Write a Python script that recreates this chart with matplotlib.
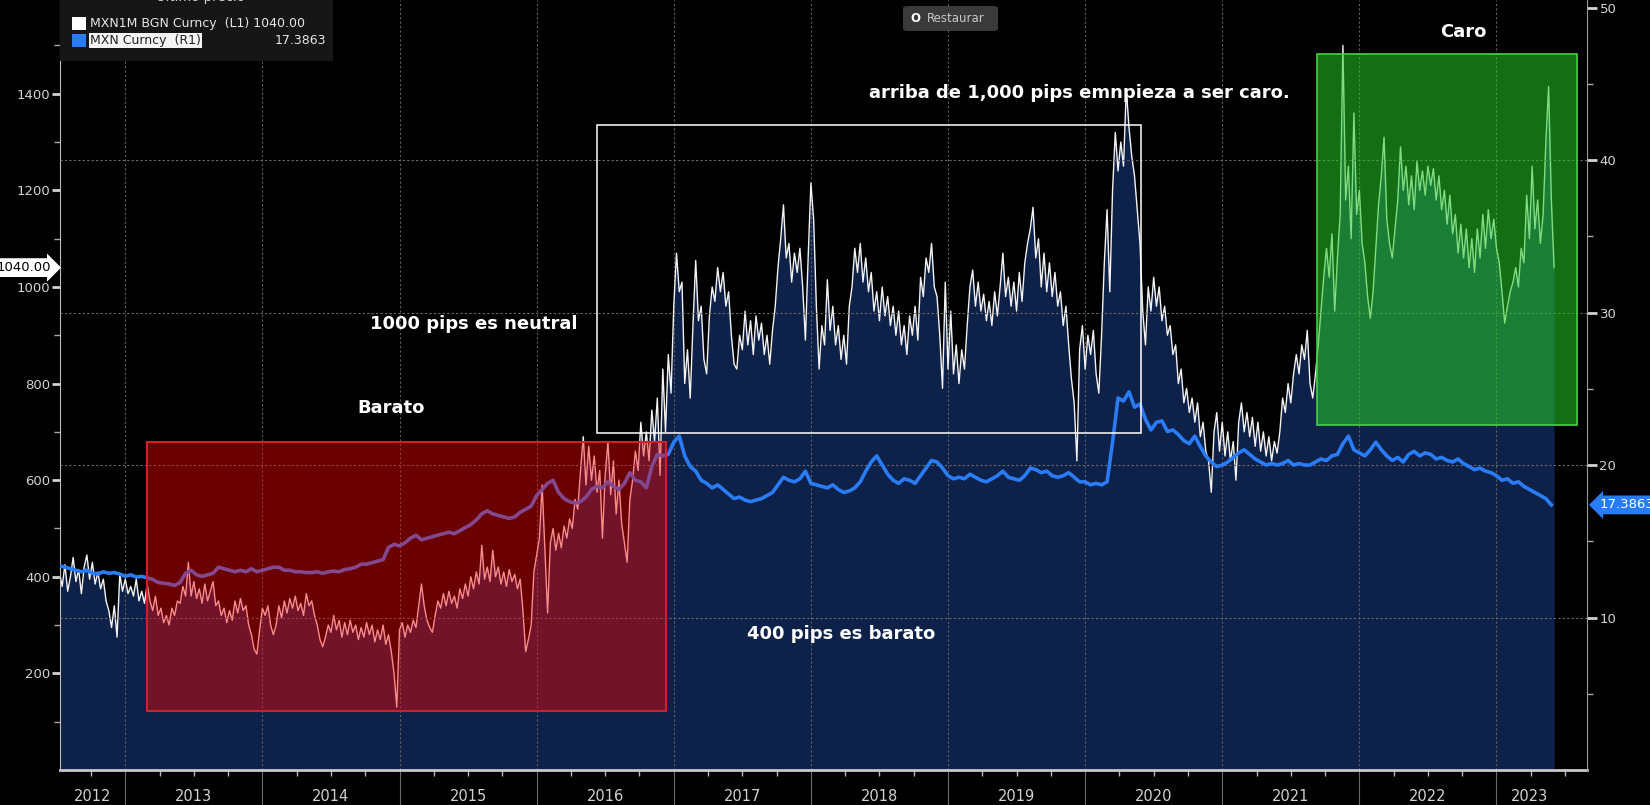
import numpy as np
import matplotlib
matplotlib.use("Agg")
import matplotlib.pyplot as plt
from matplotlib.patches import Rectangle, FancyBboxPatch
from matplotlib.transforms import blended_transform_factory

# MXN1M BGN Curncy (1M forward points), one reading every 0.02 yr
fwd_2012 = [410, 380, 425, 370, 400, 440, 390, 415, 365, 420, 445, 395,
            430, 385, 410, 375, 395, 350, 330, 295, 340, 275, 405, 370]
fwd_2013 = [395, 365, 380, 360, 395, 350, 370, 345, 385, 350,
            330, 360, 320, 335, 305, 320, 300, 335, 320, 350,
            345, 380, 360, 430, 360, 390, 355, 375, 345, 385,
            350, 370, 390, 340, 350, 320, 335, 305, 330, 310,
            350, 325, 355, 330, 340, 300, 280, 250, 240, 290]
fwd_2014 = [335, 320, 340, 300, 280, 300, 340, 315, 350, 325,
            355, 335, 360, 330, 345, 320, 365, 340, 350, 320,
            300, 270, 255, 275, 300, 285, 320, 290, 310, 275,
            305, 280, 310, 285, 300, 270, 295, 275, 305, 280,
            300, 265, 290, 270, 300, 260, 280, 245, 200, 130]
fwd_2015 = [290, 305, 275, 300, 285, 310, 295, 340, 385, 340,
            310, 295, 285, 320, 350, 335, 365, 340, 370, 345,
            360, 335, 375, 355, 385, 360, 400, 375, 410, 385,
            465, 395, 420, 390, 455, 400, 420, 385, 410, 380,
            415, 390, 405, 375, 395, 330, 245, 270, 300, 410]
fwd_2016 = [445, 480, 590, 455, 325, 470, 500, 455, 490, 460,
            505, 480, 520, 500, 560, 540, 620, 690, 590, 670,
            600, 650, 575, 620, 480, 610, 680, 570, 640, 530,
            600, 510, 470, 430, 560, 600, 660, 620, 720, 650,
            700, 640, 745, 680, 770, 610, 830, 700, 860, 780]
fwd_2017 = [960, 1070, 990, 1010, 800, 870, 770, 920, 1055, 930,
            960, 850, 820, 940, 1000, 970, 1040, 990, 1030, 960,
            990, 900, 840, 830, 900, 870, 950, 880, 930, 860,
            940, 890, 925, 860, 900, 840, 910, 960, 1040, 1100,
            1170, 1060, 1090, 1010, 1070, 1030, 1080, 1000, 890, 1060]
fwd_2018 = [1215, 1140, 960, 830, 920, 880, 1015, 910, 960, 880,
            920, 850, 900, 840, 960, 1000, 1080, 1030, 1090, 1010,
            1060, 990, 1030, 950, 990, 930, 1000, 940, 980, 920,
            960, 900, 950, 880, 920, 860, 940, 900, 960, 890,
            1020, 980, 1060, 1030, 1090, 1000, 980, 900, 790, 1010]
fwd_2019 = [830, 950, 820, 880, 800, 870, 830, 920, 1000, 1035,
            960, 1010, 950, 985, 930, 970, 920, 990, 940, 1000,
            1070, 980, 1020, 960, 1010, 950, 1030, 970, 1050, 1090,
            1120, 1165, 1060, 1100, 1000, 1070, 990, 1050, 980, 1030,
            960, 990, 920, 960, 880, 810, 760, 640, 870, 920]
fwd_2020 = [830, 900, 860, 910, 820, 780, 900, 1050, 1160, 990,
            1200, 1320, 1240, 1300, 1250, 1410, 1330, 1270, 1230, 1160,
            1090, 950, 880, 1000, 950, 1020, 960, 1000, 930, 960,
            900, 920, 860, 880, 800, 830, 760, 790, 740, 770,
            720, 760, 690, 720, 660, 640, 575, 700, 740, 660]
fwd_2021 = [720, 650, 700, 640, 680, 600, 720, 760, 700, 740,
            690, 730, 670, 720, 660, 700, 650, 690, 640, 680,
            656, 700, 770, 740, 800, 760, 820, 860, 820, 880,
            850, 910, 800, 770, 820, 880, 950, 1020, 1080, 1020,
            1110, 950, 1060, 1150, 1500, 1180, 1250, 1100, 1360, 1150]
fwd_2022 = [1200, 1090, 1050, 980, 935, 990, 1080, 1170, 1230, 1310,
            1140, 1090, 1060, 1120, 1180, 1290, 1200, 1250, 1170, 1230,
            1160, 1260, 1200, 1240, 1190, 1250, 1210, 1245, 1180, 1230,
            1160, 1200, 1130, 1190, 1110, 1150, 1070, 1130, 1060, 1120,
            1040, 1100, 1030, 1120, 1060, 1150, 1080, 1160, 1100, 1140]
fwd_2023 = [1080, 1050, 990, 925, 960, 990, 1010, 1040, 1000, 1080,
            1050, 1190, 1100, 1250, 1120, 1180, 1090, 1150, 1300, 1415,
            1180, 1040]

# MXN Curncy (spot), one reading every 0.04 yr
spot_2012 = [13.4, 13.3, 13.2, 13.1, 13.0, 13.1, 12.9, 12.85, 13.0, 12.9, 12.95, 12.85]
spot_2013 = [12.7, 12.8, 12.65, 12.7, 12.6, 12.5, 12.3, 12.25, 12.2, 12.1, 12.3, 12.9, 13.1,
             12.8, 12.7, 12.8, 12.9, 13.3, 13.2, 13.1, 13.0, 13.1, 13.0, 13.2, 13.0]
spot_2014 = [13.1, 13.2, 13.3, 13.3, 13.1, 13.1, 13.0, 13.0, 12.95, 12.95, 13.0, 12.9, 13.0,
             13.05, 13.0, 13.15, 13.2, 13.3, 13.5, 13.5, 13.6, 13.7, 13.8, 14.6, 14.8]
spot_2015 = [14.7, 14.9, 15.2, 15.4, 15.1, 15.2, 15.3, 15.4, 15.5, 15.6, 15.5, 15.7, 15.9,
             16.1, 16.4, 16.8, 17.0, 16.8, 16.7, 16.6, 16.5, 16.6, 16.9, 17.1, 17.3]
spot_2016 = [18.0, 18.4, 18.8, 19.0, 18.2, 17.8, 17.6, 17.5, 17.6, 17.9, 18.4, 18.6, 18.5,
             18.9, 18.6, 18.4, 18.8, 19.5, 19.0, 18.9, 18.5, 19.9, 20.7, 20.6, 20.7]
spot_2017 = [21.5, 21.9, 20.6, 19.9, 19.6, 19.0, 18.8, 18.5, 18.7, 18.4, 18.1, 17.8, 17.9,
             17.7, 17.6, 17.7, 17.8, 18.0, 18.2, 18.7, 19.2, 19.0, 18.9, 19.1, 19.6]
spot_2018 = [18.8, 18.7, 18.6, 18.5, 18.7, 18.4, 18.2, 18.3, 18.5, 18.9, 19.6, 20.2, 20.6,
             20.0, 19.4, 19.0, 18.8, 19.1, 19.0, 18.8, 19.3, 19.8, 20.3, 20.2, 19.8]
spot_2019 = [19.3, 19.1, 19.2, 19.1, 19.4, 19.2, 19.0, 18.9, 19.1, 19.3, 19.6, 19.2, 19.1,
             19.0, 19.3, 19.8, 19.7, 19.5, 19.6, 19.3, 19.2, 19.3, 19.5, 19.2, 18.9]
spot_2020 = [18.9, 18.7, 18.8, 18.7, 18.9, 21.5, 24.4, 24.2, 24.8, 23.8, 24.0, 23.0, 22.3,
             22.8, 22.9, 22.2, 22.3, 22.0, 21.6, 21.4, 21.9, 21.2, 20.6, 20.2, 19.9]
spot_2021 = [20.0, 20.2, 20.5, 20.8, 21.0, 20.7, 20.4, 20.2, 20.0, 20.1, 20.0, 20.1, 20.3,
             20.0, 20.1, 20.0, 20.0, 20.2, 20.4, 20.3, 20.6, 20.7, 21.4, 21.9, 21.0]
spot_2022 = [20.8, 20.6, 21.0, 21.5, 21.0, 20.6, 20.3, 20.5, 20.2, 20.7, 20.9, 20.6, 20.8,
             20.7, 20.4, 20.5, 20.3, 20.2, 20.4, 20.1, 19.9, 19.7, 19.8, 19.6, 19.5]
spot_2023 = [19.3, 19.0, 19.1, 18.8, 18.9, 18.6, 18.4, 18.2, 18.0, 17.8, 17.3863]

fwd_years = [2012, 2013, 2014, 2015, 2016, 2017, 2018, 2019, 2020, 2021, 2022, 2023]
fwd_lists = [fwd_2012, fwd_2013, fwd_2014, fwd_2015, fwd_2016, fwd_2017,
             fwd_2018, fwd_2019, fwd_2020, fwd_2021, fwd_2022, fwd_2023]
spot_lists = [spot_2012, spot_2013, spot_2014, spot_2015, spot_2016, spot_2017,
              spot_2018, spot_2019, spot_2020, spot_2021, spot_2022, spot_2023]
series_start = 2012.52

year_names = ["2012", "2013", "2014", "2015", "2016", "2017",
              "2018", "2019", "2020", "2021", "2022", "2023"]
left_ticks = [200, 400, 600, 800, 1000, 1200, 1400]
right_ticks = [10, 20, 30, 40, 50]
right_grid = [10, 20, 30, 40]

last_fwd = 1040.00
last_spot = 17.3863

# zones (x in years, y in forward points)
red_zone = (2013.16, 2016.94, 122, 680)
white_zone = (2016.44, 2020.41, 697, 1336)
green_zone = (2021.69, 2023.59, 715, 1482)

notes = [
    ("Caro", 2022.76, 1527),
    ("arriba de 1,000 pips emnpieza a ser caro.", 2019.96, 1402),
    ("1000 pips es neutral", 2015.54, 924),
    ("Barato", 2014.94, 750),
    ("400 pips es barato", 2018.22, 281),
]


def stamps(lists, step):
    out = []
    for yr, vals in zip(fwd_years, lists):
        first = series_start if yr == fwd_years[0] else yr
        out.append(first + step * np.arange(len(vals)))
    return np.concatenate(out)


fwd_t = stamps(fwd_lists, 0.02)
fwd_pts = np.concatenate(fwd_lists)
spot_t = stamps(spot_lists, 0.04)
spot_px = np.concatenate(spot_lists)

W, H = 1650, 805
fig = plt.figure(figsize=(W / 100, H / 100), dpi=100, facecolor="black")
ax = fig.add_axes([60 / W, 35 / H, (1587 - 60) / W, 770 / H])
ax.set_facecolor("black")
ax2 = ax.twinx()

navy = "#0e2149"
blue = "#2a7cf6"
grey_txt = "#d2d2d2"

ax.fill_between(fwd_t, 0, fwd_pts, color=navy, lw=0, zorder=0.3)
ax.plot(fwd_t, fwd_pts, color="#f2f2f2", lw=1.0, zorder=2)
ax2.plot(spot_t, spot_px, color=blue, lw=2.6, zorder=2, solid_joinstyle="round")

# dashed grid
boundaries = [int(y) for y in year_names[1:]]
for b in boundaries:
    ax.axvline(b, color="#5e5e5e", lw=0.8, ls=(0, (2, 2)), zorder=0.5)
for g in right_grid:
    ax2.axhline(g, color="#6a6a6a", lw=0.8, ls=(0, (2, 2)), zorder=1)

# zones drawn above both lines
x0, x1, y0, y1 = red_zone
ax2.add_patch(Rectangle((x0, y0), x1 - x0, y1 - y0, transform=ax.transData,
                        fc=(1.0, 0.0, 0.0, 0.42), ec="#d0202c", lw=1.5, zorder=3))
x0, x1, y0, y1 = white_zone
ax2.add_patch(Rectangle((x0, y0), x1 - x0, y1 - y0, transform=ax.transData,
                        fc="none", ec="white", lw=1.1, zorder=3))
x0, x1, y0, y1 = green_zone
ax2.add_patch(Rectangle((x0, y0), x1 - x0, y1 - y0, transform=ax.transData,
                        fc=(0.15, 0.8, 0.15, 0.55), ec="#45d045", lw=1.2, zorder=3))

for txt, x, y in notes:
    ax2.text(x, y, txt, transform=ax.transData, ha="center", va="center",
             color="white", fontsize=13, fontweight="bold", zorder=4)

# limits
ax.set_xlim(2012.524, 2023.66)
ax.set_ylim(0, 1594)
ax2.set_ylim(0, 50.5)

# x axis: long separators at year boundaries, quarter minor ticks
ax.set_xticks(boundaries)
ax.set_xticklabels([])
quarters = [b + q for b in [2012] + boundaries for q in (0.25, 0.5, 0.75)]
ax.set_xticks([q for q in quarters if 2012.524 < q < 2023.66], minor=True)
ax.tick_params(axis="x", which="major", direction="out", length=25, width=0.8,
               color="#6a6a6a")
ax.tick_params(axis="x", which="minor", direction="out", length=4, width=1.0,
               color="#bbbbbb")
label_x = [(2012.524 + 2013) / 2] + [b + 0.5 for b in boundaries[:-1]] + [2023.24]
lab_tr = blended_transform_factory(ax.transData, ax.transAxes)
for name, x in zip(year_names, label_x):
    ax.text(x, -0.0345, name, transform=lab_tr, ha="center", va="center",
            fontsize=10.5, color=grey_txt)

# left axis
ax.set_yticks(left_ticks)
ax.set_yticks([t - 100 for t in left_ticks] + [1500], minor=True)
ax.tick_params(axis="y", which="major", direction="out", length=6, width=2,
               color=grey_txt, labelcolor=grey_txt, labelsize=9.5, pad=1)
ax.tick_params(axis="y", which="minor", direction="out", length=4, width=1,
               color="#aaaaaa")

# right axis
ax2.set_yticks(right_ticks)
ax2.set_yticks([t - 5 for t in right_ticks], minor=True)
ax2.tick_params(axis="y", which="major", direction="out", length=7, width=2,
                color=grey_txt, labelcolor=grey_txt, labelsize=9.5, pad=2)
ax2.tick_params(axis="y", which="minor", direction="out", length=4, width=1,
                color="#aaaaaa")

for a in (ax, ax2):
    a.spines["top"].set_visible(False)
ax.spines["right"].set_visible(False)
ax2.spines["left"].set_visible(False)
ax2.spines["bottom"].set_visible(False)
ax.spines["left"].set_color("#bdbdbd")
ax.spines["bottom"].set_color("#c8c8c8")
ax.spines["bottom"].set_linewidth(2)
ax2.spines["right"].set_color("#9a9a9a")

# last value tags (cut by the figure edge, as on the terminal screen)
tr_l = blended_transform_factory(ax.transAxes, ax.transData)
ax.text(-0.006, last_fwd, f"{last_fwd:.2f}", transform=tr_l, ha="right", va="center",
        fontsize=9.5, color="black", zorder=6, clip_on=False,
        bbox=dict(boxstyle="rarrow,pad=0.22", fc="white", ec="none"))
tr_r = blended_transform_factory(ax2.transAxes, ax2.transData)
ax2.text(1.008, last_spot, f"{last_spot:.4f}", transform=tr_r, ha="left", va="center",
         fontsize=9.5, color="white", zorder=6, clip_on=False,
         bbox=dict(boxstyle="larrow,pad=0.22", fc=blue, ec="none"))

# legend panel (top-left)
fig.add_artist(Rectangle((60 / W, 1 - 61 / H), 273 / W, 61 / H, transform=fig.transFigure,
                         fc="#161616", ec="none", zorder=5))
fig.text(200 / W, 1 + 3 / H, "Último precio", ha="center", va="center", fontsize=9.5,
         color=grey_txt, zorder=6)
fig.add_artist(Rectangle((72 / W, 1 - 30 / H), 14 / W, 13 / H, transform=fig.transFigure,
                         fc="white", ec="none", zorder=6))
fig.add_artist(Rectangle((72 / W, 1 - 47 / H), 14 / W, 13 / H, transform=fig.transFigure,
                         fc=blue, ec="none", zorder=6))
fig.text(90 / W, 1 - 24 / H, "MXN1M BGN Curncy  (L1) 1040.00", ha="left", va="center",
         fontsize=9, color="#e6e6e6", zorder=6)
fig.text(90 / W, 1 - 40.5 / H, "MXN Curncy  (R1)", ha="left", va="center",
         fontsize=9, color="#202020", zorder=7,
         bbox=dict(boxstyle="square,pad=0.1", fc="#f4f4f4", ec="none"))
fig.text(326 / W, 1 - 40.5 / H, "17.3863", ha="right", va="center",
         fontsize=9, color="#e6e6e6", zorder=6)

# "Restaurar" button
fig.add_artist(FancyBboxPatch((903 / W, 1 - 31 / H), 95 / W, 25 / H,
                              boxstyle="round,pad=0,rounding_size=0.003",
                              transform=fig.transFigure, fc="#3a3a3a", ec="none", zorder=5))
fig.text(915 / W, 1 - 18.5 / H, "O", ha="center", va="center", fontsize=8.5,
         fontweight="bold", color="white", zorder=6)
fig.text(927 / W, 1 - 18.5 / H, "Restaurar", ha="left", va="center", fontsize=8.5,
         color="#c8c8c8", zorder=6)

fig.savefig("out.png", dpi=100, facecolor="black")
